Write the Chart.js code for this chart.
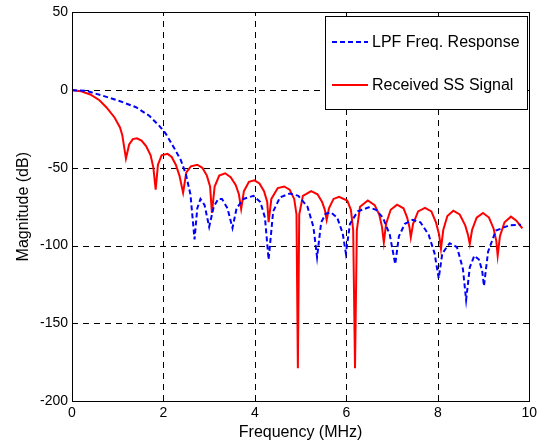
<!DOCTYPE html>
<html>
<head>
<meta charset="utf-8">
<script src="https://cdn.jsdelivr.net/npm/chart.js@4"></script>
<style>
  html, body { margin: 0; padding: 0; background: #fff; }
  #wrap { width: 541px; height: 442px; }
</style>
</head>
<body>
<div id="wrap"><canvas id="freqChart" width="541" height="442"></canvas></div>
<script>
// tick labels
const xTicks = [0, 2, 4, 6, 8, 10];
const yTicks = [-200, -150, -100, -50, 0, 50];

// LPF frequency response
const lpfFreq = [0, 0.32, 0.68, 1.04, 1.40, 1.69, 1.91, 2.05, 2.23, 2.38, 2.49, 2.59, 2.68,
    2.74, 2.81, 2.90, 3.00, 3.10, 3.20, 3.28, 3.40, 3.51, 3.60, 3.75, 3.97, 4.12, 4.22, 4.30,
    4.40, 4.55, 4.76, 4.95, 5.15, 5.28, 5.36, 5.45, 5.55, 5.66, 5.80, 5.92, 5.99,
    6.08, 6.25, 6.49, 6.65, 6.80, 6.95, 7.07, 7.15, 7.28, 7.45, 7.62, 7.80, 7.93, 8.02,
    8.10, 8.26, 8.42, 8.55, 8.62, 8.70, 8.80, 8.90, 8.97, 9.01, 9.10, 9.27, 9.56, 9.82];
const lpfDb = [0, -0.5, -3.7, -7, -11, -16.5, -23, -28, -37, -45, -54, -67, -96,
    -76, -70, -74, -88, -75, -70, -70, -76, -88.7, -76, -70, -68, -72, -82, -109,
    -78, -69, -66.5, -68, -75, -88, -107.5, -85, -79.5, -78.6, -82, -92, -105,
    -86, -78, -75.4, -77, -82, -93, -112, -94, -86, -83.5, -85, -93, -105, -121,
    -105, -98.5, -101, -115, -135, -114, -106.5, -109, -116, -126, -104, -90.4, -87, -86.6];

// received spread-spectrum signal
const ssFreq = [0, 0.2, 0.4, 0.6, 0.75, 0.93, 1.05, 1.1, 1.18, 1.25, 1.33, 1.42, 1.52, 1.62,
    1.72, 1.78, 1.83, 1.88, 1.96, 2.09, 2.18, 2.27, 2.35, 2.43, 2.5, 2.6, 2.74, 2.85, 2.95,
    3.02, 3.06, 3.12, 3.22, 3.35, 3.47, 3.58, 3.65, 3.70, 3.76, 3.87, 3.99, 4.1, 4.2, 4.27,
    4.30, 4.36, 4.5, 4.64, 4.76, 4.86, 4.91, 4.94, 4.97, 5.05, 5.23, 5.37, 5.47, 5.53, 5.57,
    5.62, 5.72, 5.84, 6.02, 6.1, 6.15, 6.19, 6.23, 6.3, 6.47, 6.62, 6.72, 6.78, 6.82, 6.87,
    6.97, 7.11, 7.25, 7.33, 7.38, 7.41, 7.46, 7.57, 7.72, 7.86, 7.96, 8.03, 8.07, 8.12, 8.21,
    8.34, 8.48, 8.6, 8.66, 8.70, 8.75, 8.85, 8.99, 9.12, 9.22, 9.28, 9.31, 9.36, 9.46, 9.60,
    9.72, 9.85];
const ssDb = [0, -0.7, -2.8, -6.5, -11, -17.6, -24, -29, -44, -35, -31.5, -31, -32.5, -36,
    -42, -50, -64, -48, -42, -41, -43, -48, -55, -66, -53, -49, -48, -50, -55,
    -62, -79, -62, -55, -53.5, -56, -61, -67, -76.5, -65, -59, -58, -60, -65, -72,
    -85, -70, -63, -62, -64, -70, -80, -179, -80, -68, -65, -67, -72, -77, -83.5,
    -76, -70, -68.6, -71, -77, -90, -179, -90, -75, -71, -74, -80, -88, -98, -86,
    -77, -73.7, -76, -82, -88, -94.7, -86, -78, -75.8, -78, -85, -93, -102, -90, -81,
    -77.6, -80, -87, -93, -99, -90, -82, -79, -82, -89, -97, -106.5, -94, -85, -81.4,
    -84, -89];

const seriesNames = ["LPF Freq. Response", "Received SS Signal"];

function toPoints(xs, ys) {
    return xs.map((x, i) => ({ x: x, y: ys[i] }));
}

const FONT = "'Liberation Sans', Arial, sans-serif";

// dashed grid, drawn under the lines
const dashGrid = {
    id: 'dashGrid',
    beforeDatasetsDraw(chart) {
        const a = chart.chartArea;
        const c = chart.ctx;
        const sx = chart.scales.x, sy = chart.scales.y;
        c.save();
        c.strokeStyle = '#000';
        c.lineWidth = 1;
        c.setLineDash([6, 5]);
        xTicks.forEach(v => {
            const px = Math.round(sx.getPixelForValue(v)) + 0.5;
            c.beginPath();
            c.moveTo(px, a.bottom);
            c.lineTo(px, a.top);
            c.stroke();
        });
        yTicks.forEach(v => {
            const py = Math.round(sy.getPixelForValue(v)) + 0.5;
            c.beginPath();
            c.moveTo(a.left, py);
            c.lineTo(a.right, py);
            c.stroke();
        });
        c.restore();
    }
};

// black box round the plot, like matlab
const frameBox = {
    id: 'frameBox',
    afterDraw(chart) {
        const a = chart.chartArea;
        const c = chart.ctx;
        c.save();
        c.strokeStyle = '#000';
        c.lineWidth = 1;
        c.setLineDash([]);
        c.strokeRect(Math.round(a.left) + 0.5, Math.round(a.top) + 0.5,
            Math.round(a.right - a.left), Math.round(a.bottom - a.top));
        c.restore();
    }
};

// legend box in the upper right corner
const boxLegend = {
    id: 'boxLegend',
    afterDraw(chart) {
        const c = chart.ctx;
        const x0 = 325.5, y0 = 16.5, w = 202, h = 93;
        c.save();
        c.fillStyle = '#fff';
        c.fillRect(x0, y0, w, h);
        c.strokeStyle = '#000';
        c.lineWidth = 1;
        c.strokeRect(x0, y0, w, h);
        c.font = '16px ' + FONT;
        c.textBaseline = 'middle';
        c.fillStyle = '#000';
        const rows = [42, 85];
        chart.data.datasets.forEach((ds, i) => {
            c.strokeStyle = ds.borderColor;
            c.lineWidth = ds.borderWidth;
            c.setLineDash(ds.borderDash || []);
            c.beginPath();
            c.moveTo(332, rows[i]);
            c.lineTo(368, rows[i]);
            c.stroke();
            c.fillText(ds.label, 372, rows[i] + 1);
        });
        c.restore();
    }
};

const ctx = document.getElementById('freqChart').getContext('2d');
const freqChart = new Chart(ctx, {
    type: 'line',
    data: {
        datasets: [{
            label: seriesNames[0],
            data: toPoints(lpfFreq, lpfDb),
            borderColor: '#0000ff',
            borderWidth: 2,
            borderDash: [5, 3],
            pointRadius: 0,
            tension: 0,
            fill: false
        }, {
            label: seriesNames[1],
            data: toPoints(ssFreq, ssDb),
            borderColor: '#ff0000',
            borderWidth: 2,
            pointRadius: 0,
            tension: 0,
            fill: false
        }]
    },
    options: {
        responsive: false,
        animation: false,
        layout: { padding: { top: 12, right: 7, left: 0, bottom: 0 } },
        plugins: {
            legend: { display: false },
            tooltip: { enabled: false }
        },
        scales: {
            x: {
                type: 'linear',
                min: 0,
                max: 10,
                afterBuildTicks: s => { s.ticks = xTicks.map(v => ({ value: v })); },
                afterFit: s => { s.height = 41; },
                ticks: { color: '#000', font: { family: FONT, size: 14 }, padding: 4, maxRotation: 0 },
                grid: { display: false, drawTicks: false },
                border: { display: false },
                title: {
                    display: true,
                    text: 'Frequency (MHz)',
                    color: '#000',
                    font: { family: FONT, size: 16 },
                    padding: { top: 0, bottom: 0 }
                }
            },
            y: {
                type: 'linear',
                min: -200,
                max: 50,
                afterBuildTicks: s => { s.ticks = yTicks.map(v => ({ value: v })); },
                afterFit: s => { s.width = 72; },
                ticks: { color: '#000', font: { family: FONT, size: 14 }, padding: 4 },
                grid: { display: false, drawTicks: false },
                border: { display: false },
                title: {
                    display: true,
                    text: 'Magnitude (dB)',
                    color: '#000',
                    font: { family: FONT, size: 16 },
                    padding: { top: 14, bottom: 0 }
                }
            }
        }
    },
    plugins: [dashGrid, frameBox, boxLegend]
});
</script>
</body>
</html>
